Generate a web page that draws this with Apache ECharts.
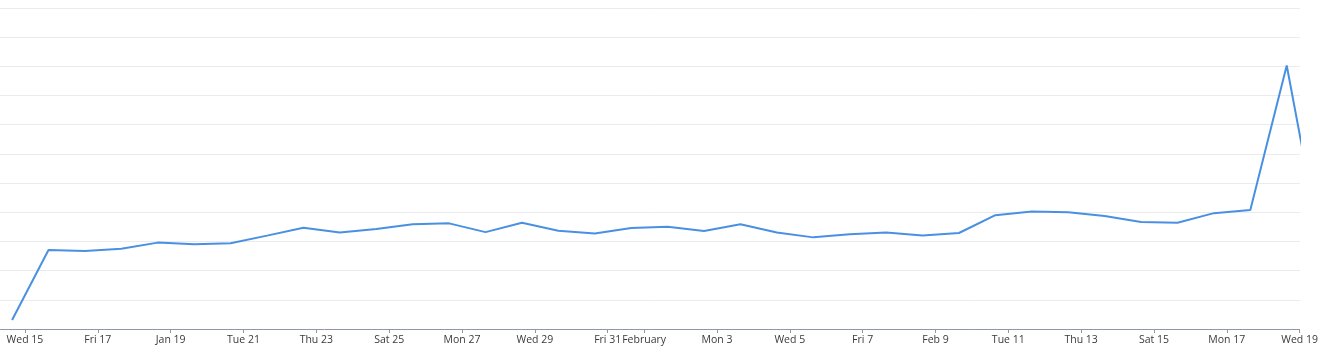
<!DOCTYPE html>
<html>
<head>
<meta charset="utf-8">
<script src="https://cdn.jsdelivr.net/npm/echarts@6/dist/echarts.min.js"></script>
<style>
html,body{margin:0;padding:0;background:#fff;}
#chart{width:1321px;height:356px;}
</style>
</head>
<body>
<div id="chart"></div>
<script>
// Daily data points (sampled at ~15:30 each day)
const pointDates = [
  '2025-01-14','2025-01-15','2025-01-16','2025-01-17','2025-01-18','2025-01-19','2025-01-20',
  '2025-01-21','2025-01-22','2025-01-23','2025-01-24','2025-01-25','2025-01-26','2025-01-27',
  '2025-01-28','2025-01-29','2025-01-30','2025-01-31','2025-02-01','2025-02-02','2025-02-03',
  '2025-02-04','2025-02-05','2025-02-06','2025-02-07','2025-02-08','2025-02-09','2025-02-10',
  '2025-02-11','2025-02-12','2025-02-13','2025-02-14','2025-02-15','2025-02-16','2025-02-17',
  '2025-02-18','2025-02-19'
];
const pointTime = 'T15:30:00Z';
const values = [
  3.1, 27.1, 26.7, 27.5, 29.6, 29.0, 29.4,
  32.0, 34.7, 33.1, 34.3, 35.9, 36.2, 33.2,
  36.4, 33.7, 32.7, 34.6, 35.0, 33.6, 35.9,
  33.1, 31.4, 32.5, 33.1, 32.0, 32.9, 39.0,
  40.3, 40.0, 38.7, 36.7, 36.4, 39.7, 40.8,
  90.3, 24.0
];
const tickDates = [
  '2025-01-15','2025-01-17','2025-01-19','2025-01-21','2025-01-23','2025-01-25','2025-01-27',
  '2025-01-29','2025-01-31','2025-02-01','2025-02-03','2025-02-05','2025-02-07','2025-02-09',
  '2025-02-11','2025-02-13','2025-02-15','2025-02-17','2025-02-19'
];
const tickLabels = [
  'Wed 15','Fri 17','Jan 19','Tue 21','Thu 23','Sat 25','Mon 27',
  'Wed 29','Fri 31','February','Mon 3','Wed 5','Fri 7','Feb 9',
  'Tue 11','Thu 13','Sat 15','Mon 17','Wed 19'
];
const axisStart = '2025-01-14T07:32:00Z';
const axisEnd = '2025-02-19T00:00:00Z';

const toTs = s => Date.parse(s);
const tickValues = tickDates.map(d => toTs(d + 'T00:00:00Z'));
const labelMap = {};
tickValues.forEach((v, i) => { labelMap[v] = tickLabels[i]; });
const seriesData = pointDates.map((d, i) => [toTs(d + pointTime), values[i]]);

const chart = echarts.init(document.getElementById('chart'), null, {renderer: 'canvas'});
chart.setOption({
  animation: false,
  backgroundColor: '#ffffff',
  grid: {left: 0, right: 21, top: 8, bottom: 27, containLabel: false},
  xAxis: {
    type: 'value',
    min: toTs(axisStart),
    max: toTs(axisEnd),
    scale: true,
    axisLine: {show: true, lineStyle: {color: '#9098a6', width: 1}},
    axisTick: {show: true, length: 4, customValues: tickValues, lineStyle: {color: '#9098a6'}},
    axisLabel: {
      customValues: tickValues,
      formatter: v => labelMap[v] || '',
      color: '#3a3a3a',
      fontFamily: 'Open Sans',
      fontSize: 10.5,
      margin: 6,
      hideOverlap: false
    },
    splitLine: {show: false}
  },
  yAxis: {
    type: 'value',
    min: 0,
    max: 110,
    interval: 10,
    axisLabel: {show: false},
    axisLine: {show: false},
    axisTick: {show: false},
    splitLine: {show: true, lineStyle: {color: '#ebebeb', width: 1}}
  },
  series: [{
    type: 'line',
    data: seriesData,
    showSymbol: false,
    symbol: 'none',
    clip: true,
    lineStyle: {color: '#4a90e2', width: 2},
    itemStyle: {color: '#4a90e2'}
  }]
});
</script>
</body>
</html>
